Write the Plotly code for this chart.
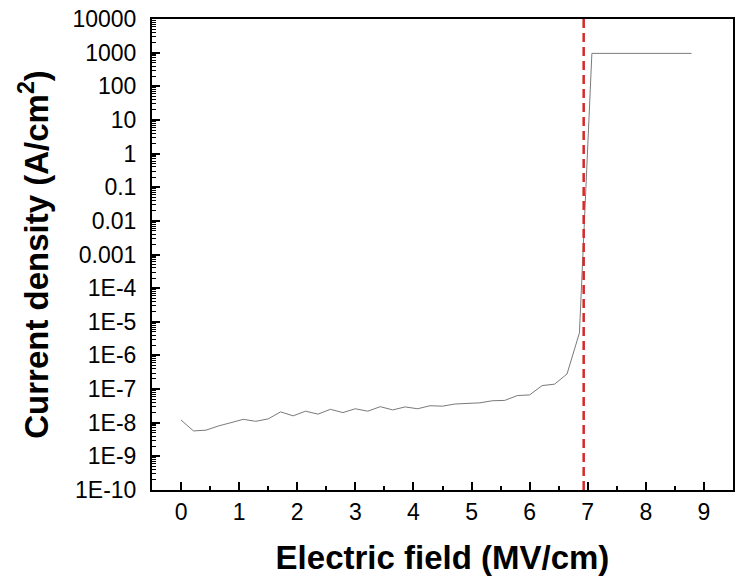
import plotly.graph_objects as go

# Data
step = 1.5 / 7
field = [round(i * step, 3) for i in range(42)]
current = [
    1.2e-8, 5.7e-9, 6.0e-9, 8.0e-9, 1.0e-8, 1.26e-8, 1.1e-8, 1.3e-8,
    2.1e-8, 1.6e-8, 2.2e-8, 1.8e-8, 2.5e-8, 2.0e-8, 2.6e-8, 2.2e-8,
    3.0e-8, 2.4e-8, 2.95e-8, 2.6e-8, 3.2e-8, 3.1e-8, 3.6e-8, 3.7e-8,
    3.9e-8, 4.5e-8, 4.6e-8, 6.4e-8, 6.7e-8, 1.27e-7, 1.4e-7, 2.8e-7,
    4.7e-6, 950, 950, 950, 950, 950, 950, 950, 950, 950,
]
breakdown_field = 6.93

y_tickvals = [10.0 ** e for e in range(4, -11, -1)]
y_ticktext = ["10000", "1000", "100", "10", "1", "0.1", "0.01", "0.001",
              "1E-4", "1E-5", "1E-6", "1E-7", "1E-8", "1E-9", "1E-10"]
x_tickvals = list(range(0, 10))

FONT = "Liberation Sans, Arial, sans-serif"

fig = go.Figure()
fig.add_trace(go.Scatter(
    x=field, y=current, mode="lines",
    line=dict(color="#7a7a7a", width=1),
    showlegend=False,
))

fig.add_shape(
    type="line", xref="x", yref="paper",
    x0=breakdown_field, x1=breakdown_field, y0=0, y1=1,
    line=dict(color="#d42a2a", width=2.5, dash="9px,5px"),
    layer="above",
)

fig.update_layout(
    width=744, height=586,
    margin=dict(l=152, r=11, t=19, b=96, autoexpand=False),
    paper_bgcolor="white", plot_bgcolor="white",
    font=dict(family=FONT, color="black", size=23),
)

fig.update_xaxes(
    range=[-0.5, 9.5],
    tickvals=x_tickvals,
    ticks="inside", ticklen=8, tickwidth=1.5, tickcolor="black",
    minor=dict(ticks="inside", ticklen=4, tickwidth=1.5, tickcolor="black", dtick=0.5, showgrid=False),
    showline=True, linecolor="black", linewidth=2, mirror=True,
    showgrid=False, zeroline=False, automargin=False,
    tickfont=dict(size=23, family=FONT),
    title=dict(text="<b>Electric field (MV/cm)</b>", font=dict(size=33, family=FONT), standoff=22),
)

fig.update_yaxes(
    type="log",
    range=[-10, 4],
    tickvals=y_tickvals, ticktext=y_ticktext,
    ticks="inside", ticklen=8, tickwidth=1.5, tickcolor="black",
    minor=dict(ticks="inside", ticklen=4, tickwidth=1, tickcolor="black", dtick="D1", showgrid=False),
    showline=True, linecolor="black", linewidth=2, mirror=True,
    showgrid=False, zeroline=False, automargin=False,
    tickfont=dict(size=23, family=FONT),
    ticklabelstandoff=9,
    title=dict(text="<b>Current density (A/cm<sup>2</sup>)</b>", font=dict(size=33, family=FONT), standoff=14),
)

fig.write_html("out.html")
